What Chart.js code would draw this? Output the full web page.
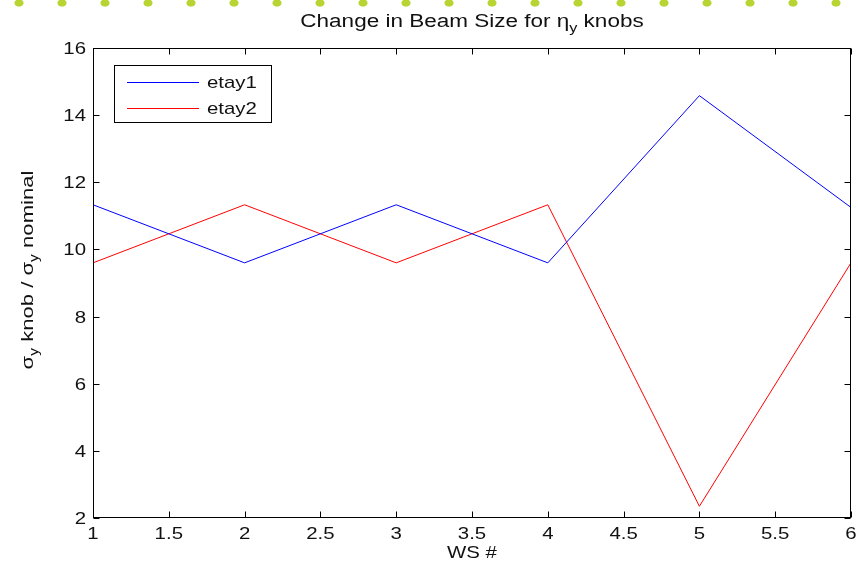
<!DOCTYPE html>
<html>
<head>
<meta charset="utf-8">
<script src="https://cdn.jsdelivr.net/npm/chart.js@4/dist/chart.umd.min.js"></script>
<style>
  html, body { margin: 0; padding: 0; background: #fff; }
  #wrap { position: relative; width: 858px; height: 565px; }
  #dots {
    position: absolute; left: 0; top: 0; width: 858px; height: 8px;
    background-image: radial-gradient(ellipse 5px 4px at 19px 3px, #b7d433 0 80%, rgba(183,212,51,0) 100%);
    background-size: 43px 8px;
  }
</style>
</head>
<body>
<div id="wrap">
  <canvas id="chart" width="858" height="565"></canvas>
  <div id="dots"></div>
</div>
<script>
// data
const wsNumbers = [1, 2, 3, 4, 5, 6];
const etay1 = [11.33, 9.6, 11.33, 9.6, 14.58, 11.25];
const etay2 = [9.6, 11.33, 9.6, 11.33, 2.35, 9.6];
const seriesLabels = ['etay1', 'etay2'];
const seriesColors = ['#0000ff', '#ff0000'];
const xTickValues = [1, 1.5, 2, 2.5, 3, 3.5, 4, 4.5, 5, 5.5, 6];
const yTickValues = [2, 4, 6, 8, 10, 12, 14, 16];

const FONT = '"Liberation Sans", Arial, sans-serif';
const SX = 1.2; // text in the picture is a bit wide

function drawParts(ctx, parts, cx, baseY, sx) {
  // parts: {text, size, dy}
  let total = 0;
  parts.forEach(p => {
    ctx.font = p.size + 'px ' + FONT;
    p.w = ctx.measureText(p.text).width * sx;
    total += p.w;
  });
  let x = cx - total / 2;
  parts.forEach(p => {
    ctx.save();
    ctx.font = p.size + 'px ' + FONT;
    ctx.translate(x, baseY + (p.dy || 0));
    ctx.scale(sx, 1);
    ctx.textAlign = 'left';
    ctx.fillText(p.text, 0, 0);
    ctx.restore();
    x += p.w;
  });
}

function stretched(ctx, text, x, y, align, sx) {
  ctx.save();
  ctx.translate(x, y);
  ctx.scale(sx, 1);
  ctx.textAlign = align;
  ctx.fillText(text, 0, 0);
  ctx.restore();
}

const matlabAxes = {
  id: 'matlabAxes',
  afterDraw(chart) {
    const ctx = chart.ctx;
    const { left, right, top, bottom } = chart.chartArea;
    const xs = chart.scales.x, ys = chart.scales.y;
    ctx.save();
    ctx.strokeStyle = '#000';
    ctx.fillStyle = '#111';
    ctx.lineWidth = 1;
    const L = Math.round(left) + 0.5, R = Math.round(right) - 0.5;
    const T = Math.round(top) + 0.5, B = Math.round(bottom) - 0.5;
    ctx.strokeRect(L, T, R - L, B - T);

    // ticks, inward on all four sides
    ctx.beginPath();
    xs.ticks.forEach(t => {
      const px = Math.round(xs.getPixelForValue(t.value)) + 0.5;
      ctx.moveTo(px, B); ctx.lineTo(px, B - 6);
      ctx.moveTo(px, T); ctx.lineTo(px, T + 6);
    });
    ys.ticks.forEach(t => {
      const py = Math.round(ys.getPixelForValue(t.value)) + 0.5;
      ctx.moveTo(L, py); ctx.lineTo(L + 6, py);
      ctx.moveTo(R, py); ctx.lineTo(R - 6, py);
    });
    ctx.stroke();

    // tick labels
    ctx.font = '17px ' + FONT;
    ctx.textBaseline = 'alphabetic';
    xs.ticks.forEach(t => {
      stretched(ctx, String(t.value), xs.getPixelForValue(t.value), bottom + 21, 'center', SX);
    });
    ys.ticks.forEach(t => {
      stretched(ctx, String(t.value), left - 7, ys.getPixelForValue(t.value) + 6, 'right', SX);
    });

    // title
    drawParts(ctx, [
      { text: 'Change in Beam Size for η', size: 18 },
      { text: 'y', size: 13, dy: 5 },
      { text: ' knobs', size: 18 }
    ], (left + right) / 2, 27, 1.25);

    // x label
    ctx.font = '17px ' + FONT;
    stretched(ctx, 'WS #', (left + right) / 2, 558, 'center', SX);

    // y label, rotated
    ctx.save();
    ctx.translate(33, 270);
    ctx.rotate(-Math.PI / 2);
    drawParts(ctx, [
      { text: 'σ', size: 17 },
      { text: 'y', size: 12, dy: 5 },
      { text: ' knob / ', size: 17 },
      { text: 'σ', size: 17 },
      { text: 'y', size: 12, dy: 5 },
      { text: ' nominal', size: 17 }
    ], 0, 0, 1.3);
    ctx.restore();

    // legend
    ctx.fillStyle = '#fff';
    ctx.fillRect(114.5, 65.5, 157, 57);
    ctx.strokeStyle = '#000';
    ctx.strokeRect(114.5, 65.5, 157, 57);
    chart.data.datasets.forEach((ds, i) => {
      const y = 81.5 + i * 26.5;
      ctx.strokeStyle = ds.borderColor;
      ctx.beginPath();
      ctx.moveTo(127, Math.round(y) + 0.5);
      ctx.lineTo(199, Math.round(y) + 0.5);
      ctx.stroke();
      ctx.fillStyle = '#111';
      ctx.font = '17px ' + FONT;
      stretched(ctx, ds.label, 207, y + 6, 'left', SX);
    });
    ctx.restore();
  }
};

const datasets = [etay1, etay2].map((vals, i) => ({
  label: seriesLabels[i],
  data: wsNumbers.map((x, j) => ({ x: x, y: vals[j] })),
  borderColor: seriesColors[i],
  borderWidth: 1,
  pointRadius: 0,
  tension: 0,
  fill: false
}));

new Chart(document.getElementById('chart'), {
  type: 'line',
  data: { datasets },
  options: {
    responsive: false,
    animation: false,
    devicePixelRatio: 1,
    layout: { padding: { top: 48, right: 7, left: 0, bottom: 0 } },
    plugins: {
      legend: { display: false },
      title: { display: false },
      tooltip: { enabled: false }
    },
    scales: {
      x: {
        type: 'linear',
        min: 1,
        max: 6,
        grid: { display: false },
        border: { display: false },
        ticks: { display: false },
        afterBuildTicks: (s) => { s.ticks = xTickValues.map(v => ({ value: v })); },
        afterFit: (s) => { s.height = 47; }
      },
      y: {
        min: 2,
        max: 16,
        grid: { display: false },
        border: { display: false },
        ticks: { display: false },
        afterBuildTicks: (s) => { s.ticks = yTickValues.map(v => ({ value: v })); },
        afterFit: (s) => { s.width = 93; }
      }
    }
  },
  plugins: [matlabAxes]
});
</script>
</body>
</html>
